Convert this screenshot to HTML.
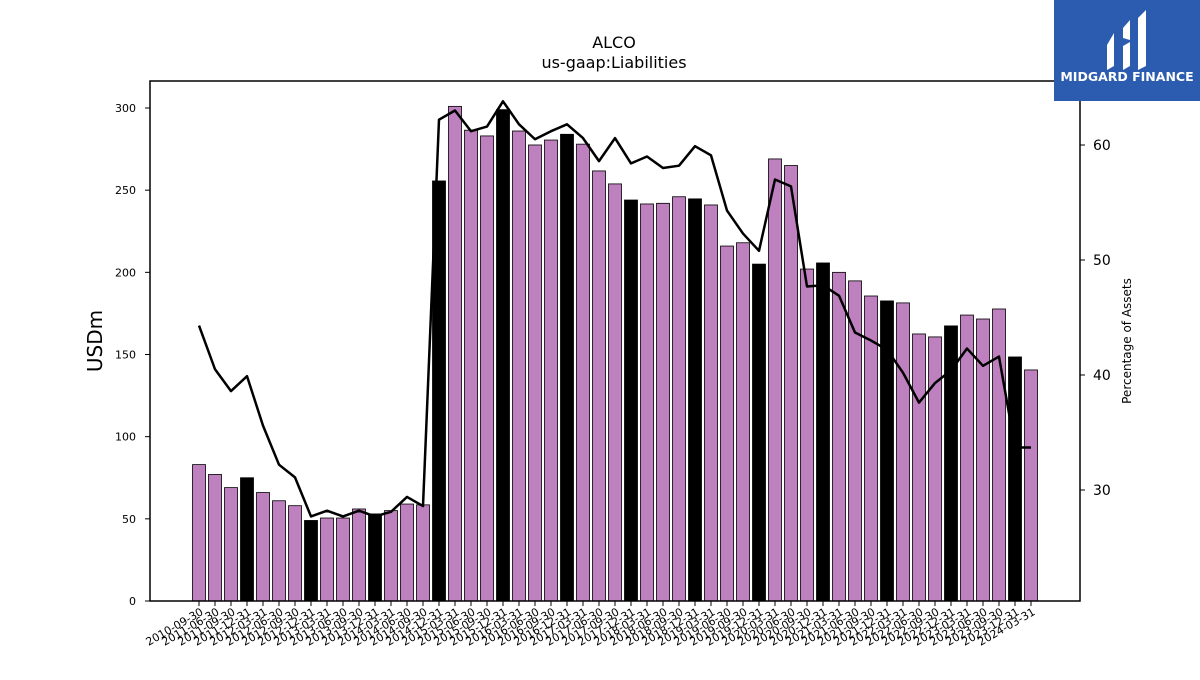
<!DOCTYPE html>
<html><head><meta charset="utf-8"><style>
body{margin:0;background:#fff;font-family:"Liberation Sans","DejaVu Sans",sans-serif;}
svg text{font-family:"DejaVu Sans","Liberation Sans",sans-serif;}
</style></head><body>
<svg id="chart" width="1200" height="675" viewBox="0 0 1200 675" xmlns="http://www.w3.org/2000/svg">
<rect width="1200" height="675" fill="#fff"/>
<text x="614" y="48" font-size="16" text-anchor="middle">ALCO</text>
<text x="614" y="68" font-size="16" text-anchor="middle">us-gaap:Liabilities</text>
<g id="bars"></g>
<g id="line"></g>
<rect x="150" y="81" width="930" height="520" fill="none" stroke="#000" stroke-width="1.5"/>
<g id="axes"></g>
<text transform="translate(102,341) rotate(-90)" font-size="20" text-anchor="middle">USDm</text>
<text transform="translate(1131,341) rotate(-90)" font-size="12" text-anchor="middle">Percentage of Assets</text>
<g>
<rect x="1054" y="0" width="146" height="101" fill="#2b5cb0"/>
<path d="M1107 45 L1114 33 L1114 66 L1107 70 Z" fill="#fff"/>
<path d="M1123 28 L1130 20 L1130 40 L1123 38 Z M1123 46 L1130 42 L1130 66 L1123 70 Z" fill="#fff"/>
<path d="M1138 18 L1146 10 L1146 66 L1138 70 Z" fill="#fff"/>
<text x="1127" y="81" font-size="12.5" font-weight="bold" fill="#fff" text-anchor="middle">MIDGARD FINANCE</text>
</g>
</svg>
<script>
const dates=["2010-09-30","2011-06-30","2011-09-30","2011-12-31","2012-03-31","2012-06-30","2012-09-30","2012-12-31","2013-03-31","2013-06-30","2013-09-30","2013-12-31","2014-03-31","2014-06-30","2014-09-30","2014-12-31","2015-03-31","2015-06-30","2015-09-30","2015-12-31","2016-03-31","2016-06-30","2016-09-30","2016-12-31","2017-03-31","2017-06-30","2017-09-30","2017-12-31","2018-03-31","2018-06-30","2018-09-30","2018-12-31","2019-03-31","2019-06-30","2019-09-30","2019-12-31","2020-03-31","2020-06-30","2020-09-30","2020-12-31","2021-03-31","2021-06-30","2021-09-30","2021-12-31","2022-03-31","2022-06-30","2022-09-30","2022-12-31","2023-03-31","2023-06-30","2023-09-30","2023-12-31","2024-03-31"];
const liabilities=[83,77,69,75,66,61,58,49,50.5,50.5,56,53,55,59,58.5,255.6,301,286.5,283,299,286,277.5,280.5,284,278,261.7,253.8,244,241.6,242,246,244.7,241,216,218,205,269,265,202,205.7,200,194.8,185.6,182.6,181.4,162.5,160.7,167.4,174,171.6,177.7,148.5,140.6];
const pctAssets=[44.3,40.5,38.6,39.9,35.6,32.2,31.1,27.7,28.2,27.7,28.2,27.7,28.1,29.4,28.6,62.2,63.0,61.2,61.6,63.8,61.8,60.5,61.2,61.8,60.6,58.6,60.6,58.4,59.0,58.0,58.2,59.9,59.1,54.3,52.3,50.8,57.0,56.4,47.7,47.8,46.9,43.7,43.0,42.2,40.2,37.6,39.3,40.4,42.3,40.8,41.6,33.7,33.7];
const leftTicks=[0,50,100,150,200,250,300];
const rightTicks=[30,40,50,60];
const NS="http://www.w3.org/2000/svg";
const X0=199,DX=16,BW=13;
const xPos=i=>X0+i*DX;
const yL=v=>601-v*(493/300);
const yR=p=>145+(60-p)*11.5;
function mk(t,a,parent){const e=document.createElementNS(NS,t);for(const k in a)e.setAttribute(k,a[k]);parent.appendChild(e);return e;}
const bars=document.getElementById('bars'),line=document.getElementById('line'),axes=document.getElementById('axes');
liabilities.forEach((v,i)=>{
 const r=mk('rect',{x:xPos(i)-BW/2,y:yL(v),width:BW,height:601-yL(v),fill:dates[i].endsWith('12-31')?'#000':'#bf80bf',stroke:'#000','stroke-width':0.8},bars);
 
 
});
const pts=pctAssets.map((p,i)=>xPos(i)+','+yR(p)).join(' ');
const pl=mk('polyline',{points:pts,fill:'none',stroke:'#000','stroke-width':2.5,'stroke-linejoin':'round'},line);


leftTicks.forEach(t=>{
 const y=yL(t);
 mk('line',{x1:145,x2:150,y1:y,y2:y,stroke:'#000'},axes);
 const tx=mk('text',{x:136,y:y+4,'font-size':11,'text-anchor':'end'},axes);tx.textContent=t;
 
 
});
rightTicks.forEach(t=>{
 const y=yR(t);
 mk('line',{x1:1080,x2:1085,y1:y,y2:y,stroke:'#000'},axes);
 const tx=mk('text',{x:1093,y:y+5,'font-size':14},axes);tx.textContent=t;
 
 
});
dates.forEach((d,i)=>{
 const x=xPos(i);
 mk('line',{x1:x,x2:x,y1:601,y2:606,stroke:'#000'},axes);
 const tx=mk('text',{transform:`translate(${x+5},${614}) rotate(-30)`,'font-size':11,'text-anchor':'end'},axes);tx.textContent=d;
 
 
});
</script>
</body></html>
